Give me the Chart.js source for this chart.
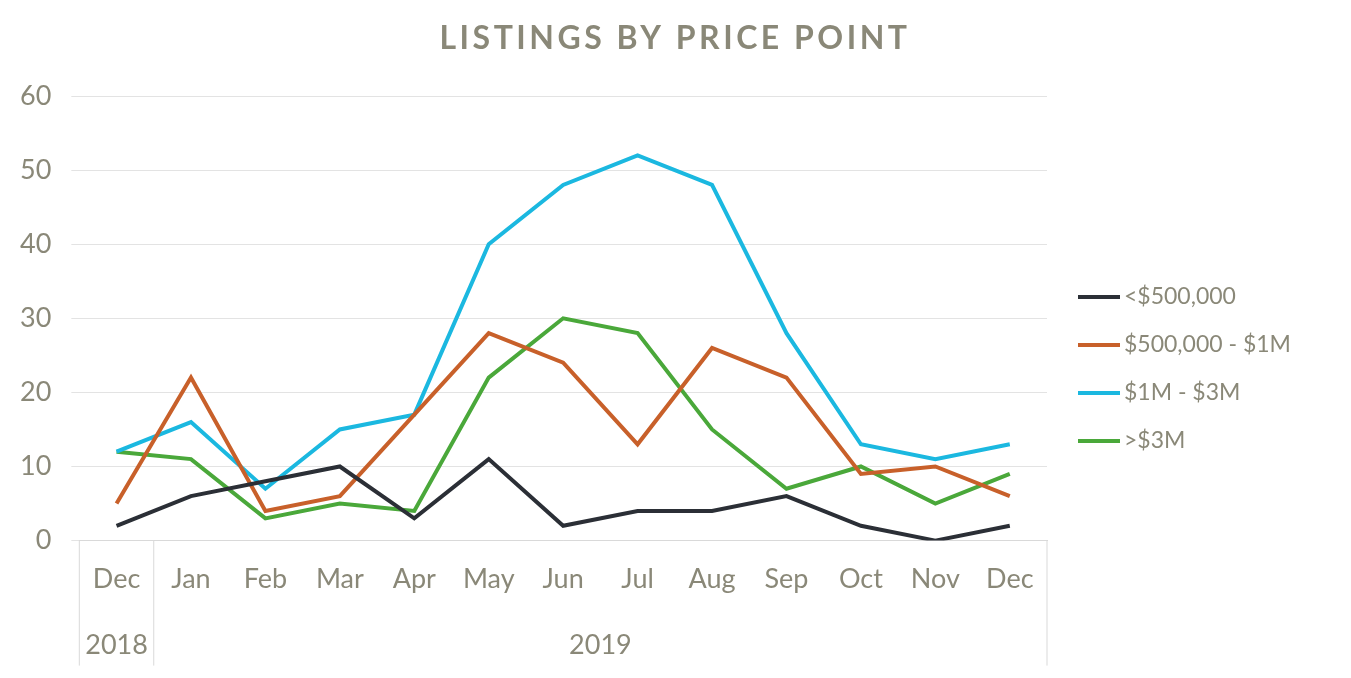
<!DOCTYPE html>
<html>
<head>
<meta charset="utf-8">
<script src="https://cdn.jsdelivr.net/npm/chart.js@4"></script>
<style>
  body { margin: 0; background: #fff; }
  #wrap { width: 1351px; height: 678px; }
</style>
</head>
<body>
<div id="wrap"><canvas id="priceChart"></canvas></div>
<script>
// Chart data
const months = ['Dec', 'Jan', 'Feb', 'Mar', 'Apr', 'May', 'Jun', 'Jul', 'Aug', 'Sep', 'Oct', 'Nov', 'Dec'];
const years = [{ label: '2018', from: 0, to: 0 }, { label: '2019', from: 1, to: 12 }];
const under500k = [2, 6, 8, 10, 3, 11, 2, 4, 4, 6, 2, 0, 2];
const from500kTo1M = [5, 22, 4, 6, 17, 28, 24, 13, 26, 22, 9, 10, 6];
const from1MTo3M = [12, 16, 7, 15, 17, 40, 48, 52, 48, 28, 13, 11, 13];
const over3M = [12, 11, 3, 5, 4, 22, 30, 28, 15, 7, 10, 5, 9];
const yTicks = [0, 10, 20, 30, 40, 50, 60];

const grey = '#8a8878';
const font = 'Lato, "Open Sans", sans-serif';

// Title, two-level x axis and legend drawn on the canvas
const extras = {
    id: 'extras',
    afterDraw(chart) {
        const ctx = chart.ctx;
        const x = chart.scales.x;
        const area = chart.chartArea;
        const step = x.getPixelForValue(1) - x.getPixelForValue(0);

        ctx.save();
        // title
        ctx.fillStyle = grey;
        ctx.font = 'bold 32px ' + font;
        ctx.letterSpacing = '3.5px';
        ctx.textAlign = 'center';
        ctx.textBaseline = 'middle';
        ctx.fillText('LISTINGS BY PRICE POINT', 675, 39);
        ctx.letterSpacing = '0px';

        // year separators and labels
        ctx.strokeStyle = '#d9d9d9';
        ctx.lineWidth = 1;
        const edges = [x.getPixelForValue(0) - step / 2, x.getPixelForValue(1) - step / 2, x.getPixelForValue(12) + step / 2];
        edges.forEach(px => {
            ctx.beginPath();
            ctx.moveTo(px, area.bottom);
            ctx.lineTo(px, area.bottom + 125);
            ctx.stroke();
        });
        ctx.font = '27px ' + font;
        years.forEach(y => {
            const mid = (x.getPixelForValue(y.from) + x.getPixelForValue(y.to)) / 2;
            ctx.fillText(y.label, mid, area.bottom + 105);
        });

        // legend
        ctx.font = '23px ' + font;
        ctx.textAlign = 'left';
        chart.data.datasets.forEach((ds, i) => {
            const ly = 297 + i * 48;
            ctx.strokeStyle = ds.borderColor;
            ctx.lineWidth = 4;
            ctx.beginPath();
            ctx.moveTo(1078, ly);
            ctx.lineTo(1120, ly);
            ctx.stroke();
            ctx.fillStyle = grey;
            ctx.fillText(ds.label, 1124, ly);
        });
        ctx.restore();
    }
};

const line = (label, data, color) => ({
    label, data,
    borderColor: color,
    backgroundColor: color,
    borderWidth: 4,
    pointRadius: 0,
    tension: 0
});

new Chart(document.getElementById('priceChart'), {
    type: 'line',
    data: {
        labels: months,
        datasets: [
            line('<$500,000', under500k, '#2b2f36'),
            line('$500,000 - $1M', from500kTo1M, '#c8602a'),
            line('$1M - $3M', from1MTo3M, '#1bb8e0'),
            line('>$3M', over3M, '#4aa83a')
        ]
    },
    options: {
        responsive: true,
        maintainAspectRatio: false,
        animation: false,
        layout: { padding: { top: 96, right: 304, bottom: 69, left: 0 } },
        plugins: { legend: { display: false }, tooltip: { enabled: false } },
        scales: {
            x: {
                offset: true,
                grid: { display: false },
                border: { color: '#d9d9d9' },
                ticks: { color: grey, font: { size: 27, family: font }, padding: 14, maxRotation: 0 }
            },
            y: {
                min: 0, max: 60,
                afterBuildTicks: axis => { axis.ticks = yTicks.map(v => ({ value: v })); },
                grid: { color: '#e3e3e3' },
                border: { display: false },
                ticks: { color: grey, font: { size: 27, family: font }, padding: 20 }
            }
        }
    },
    plugins: [extras]
});
</script>
</body>
</html>
